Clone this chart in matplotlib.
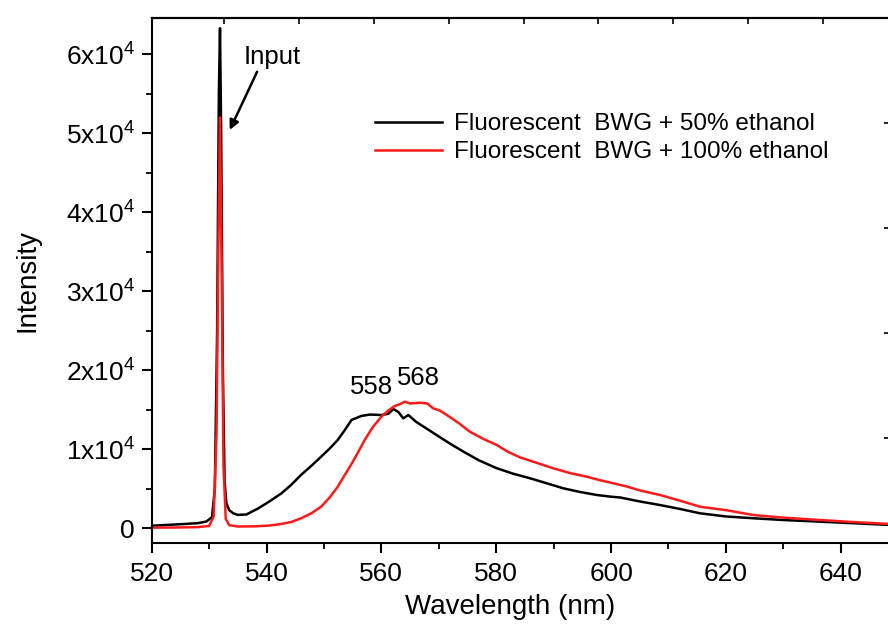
import matplotlib
matplotlib.use("Agg")
import matplotlib.pyplot as plt
from matplotlib.ticker import MultipleLocator

plt.rcParams['font.family'] = ['Liberation Sans', 'DejaVu Sans']
plt.rcParams['mathtext.fontset'] = 'custom'
plt.rcParams['mathtext.rm'] = 'Liberation Sans'
plt.rcParams['mathtext.default'] = 'regular'

# BWG + 50% ethanol (black)
black_wl = [520, 522, 524, 526, 528, 529.5, 530.5, 531.0, 531.4, 531.7, 531.9, 532.1, 532.4,
            532.7, 533.0, 533.5, 534.2, 535.0, 536.5, 538.5, 540.5, 542.6, 544.3, 546.0, 547.8,
            549.5, 551.0, 552.4, 553.5, 554.8, 556.5, 558.0, 560.0, 561.2, 562.1, 563.0, 563.8,
            564.7, 566.0, 567.5, 569.6, 572.0, 574.3, 577.0, 580.1, 583.0, 585.9, 588.8, 591.7,
            594.6, 597.5, 600.0, 601.6, 605.0, 608.5, 612.0, 615.5, 620.0, 624.8, 630.0, 636.4,
            642.0, 648.7]
black_int = [330, 400, 480, 560, 650, 850, 1400, 5000, 25000, 55000, 63300, 50000, 20000,
             6000, 3200, 2300, 1900, 1700, 1750, 2500, 3400, 4430, 5500, 6750, 7900,
             9060, 10100, 11180, 12300, 13710, 14220, 14400, 14340, 14500, 15100, 14700, 13920,
             14340, 13500, 12800, 11810, 10700, 9700, 8600, 7600, 6900, 6330, 5700, 5060,
             4600, 4220, 4000, 3900, 3400, 2950, 2450, 1900, 1500, 1270, 1050, 840,
             650, 420]

# BWG + 100% ethanol (red)
red_wl = [520, 524, 528, 530.0, 530.8, 531.3, 531.6, 531.9, 532.2, 532.5, 532.9, 533.5, 535,
          538, 540.5, 542.5, 544.3, 546.0, 547.8, 549.5, 551.0, 552.4, 553.5, 554.7, 556.0,
          557.1, 558.5, 560.0, 561.2, 562.3, 563.2, 564.1, 565.0, 566.7, 568.0, 569.0, 570.2,
          571.4, 573.5, 575.4, 577.8, 580.1, 582.0, 584.1, 587.0, 589.9, 592.8, 595.8, 598.0,
          600.4, 602.7, 605.0, 608.5, 612.0, 615.5, 620.0, 624.8, 630.0, 636.4, 642.0, 648.7]
red_int = [80, 100, 150, 300, 1500, 12000, 35000, 52000, 32000, 8000, 1200, 400, 230,
           250, 350, 540, 800, 1260, 1900, 2730, 3900, 5260, 6600, 8010, 9700,
           11180, 12800, 14130, 14900, 15480, 15700, 16030, 15800, 15900, 15800, 15190, 14900,
           14340, 13300, 12230, 11300, 10540, 9700, 8990, 8300, 7600, 7000, 6530, 6100,
           5700, 5300, 4800, 4220, 3500, 2730, 2300, 1680, 1350, 1050, 800, 540]

labels = ['Fluorescent  BWG + 50% ethanol', 'Fluorescent  BWG + 100% ethanol']
yticks = [0, 10000, 20000, 30000, 40000, 50000, 60000]
yticklabels = ['0'] + ['%dx10$^{4}$' % k for k in range(1, 7)]

fig = plt.figure(figsize=(8.88, 6.24), dpi=100)
ax = fig.add_axes([0.1708, 0.1298, 0.8326, 0.8409])

ax.plot(black_wl, black_int, color='black', lw=1.8, label=labels[0])
ax.plot(red_wl, red_int, color='#ff1a1a', lw=1.8, label=labels[1])

ax.set_xlim(520, 648.75)
ax.set_ylim(-1860, 64560)

ax.xaxis.set_major_locator(MultipleLocator(20))
ax.xaxis.set_minor_locator(MultipleLocator(10))
ax.set_yticks(yticks)
ax.set_yticklabels(yticklabels)
ax.yaxis.set_minor_locator(MultipleLocator(5000))
ax.tick_params(which='major', direction='out', length=7, width=1.5, labelsize=19)
ax.tick_params(which='minor', direction='out', length=4, width=1.3)
ax.tick_params(axis='x', pad=7)
ax.tick_params(axis='y', pad=5)
for s in ax.spines.values():
    s.set_linewidth(1.5)

# odd tick marks on the top and right frame, as in the original
top = ax.secondary_xaxis('top')
top.set_xticks([532.6 + 13.04 * k for k in range(9)])
top.tick_params(direction='in', length=4, width=1.2, labeltop=False)
top.spines['top'].set_linewidth(1.5)
right = ax.secondary_yaxis('right')
right.set_yticks([11430, 24722, 38013, 51304])
right.tick_params(direction='in', length=5, width=1.2, labelright=False)

ax.set_xlabel('Wavelength (nm)', fontsize=20)
ax.set_ylabel('Intensity', fontsize=20)
ax.xaxis.set_label_coords(0.4847, -0.097)
ax.yaxis.set_label_coords(-0.151, 0.5)

ax.annotate('Input', xy=(533.6, 50430), xytext=(536.1, 59660),
            fontsize=18.5, va='center', ha='left',
            arrowprops=dict(arrowstyle='-|>', color='black', lw=1.8,
                            mutation_scale=14, shrinkA=0, shrinkB=0,
                            relpos=(0.25, 0.0)))
ax.text(558.2, 17890, '558', fontsize=18.5, ha='center', va='center')
ax.text(566.4, 19030, '568', fontsize=18.5, ha='center', va='center')

ax.legend(loc='upper left', bbox_to_anchor=(375 / 888, 1 - 113 / 624),
          bbox_transform=fig.transFigure, frameon=False, fontsize=17.5,
          handlelength=2.75, handletextpad=0.5, labelspacing=0.26,
          borderpad=0, borderaxespad=0)

fig.savefig('out.png', dpi=100)
